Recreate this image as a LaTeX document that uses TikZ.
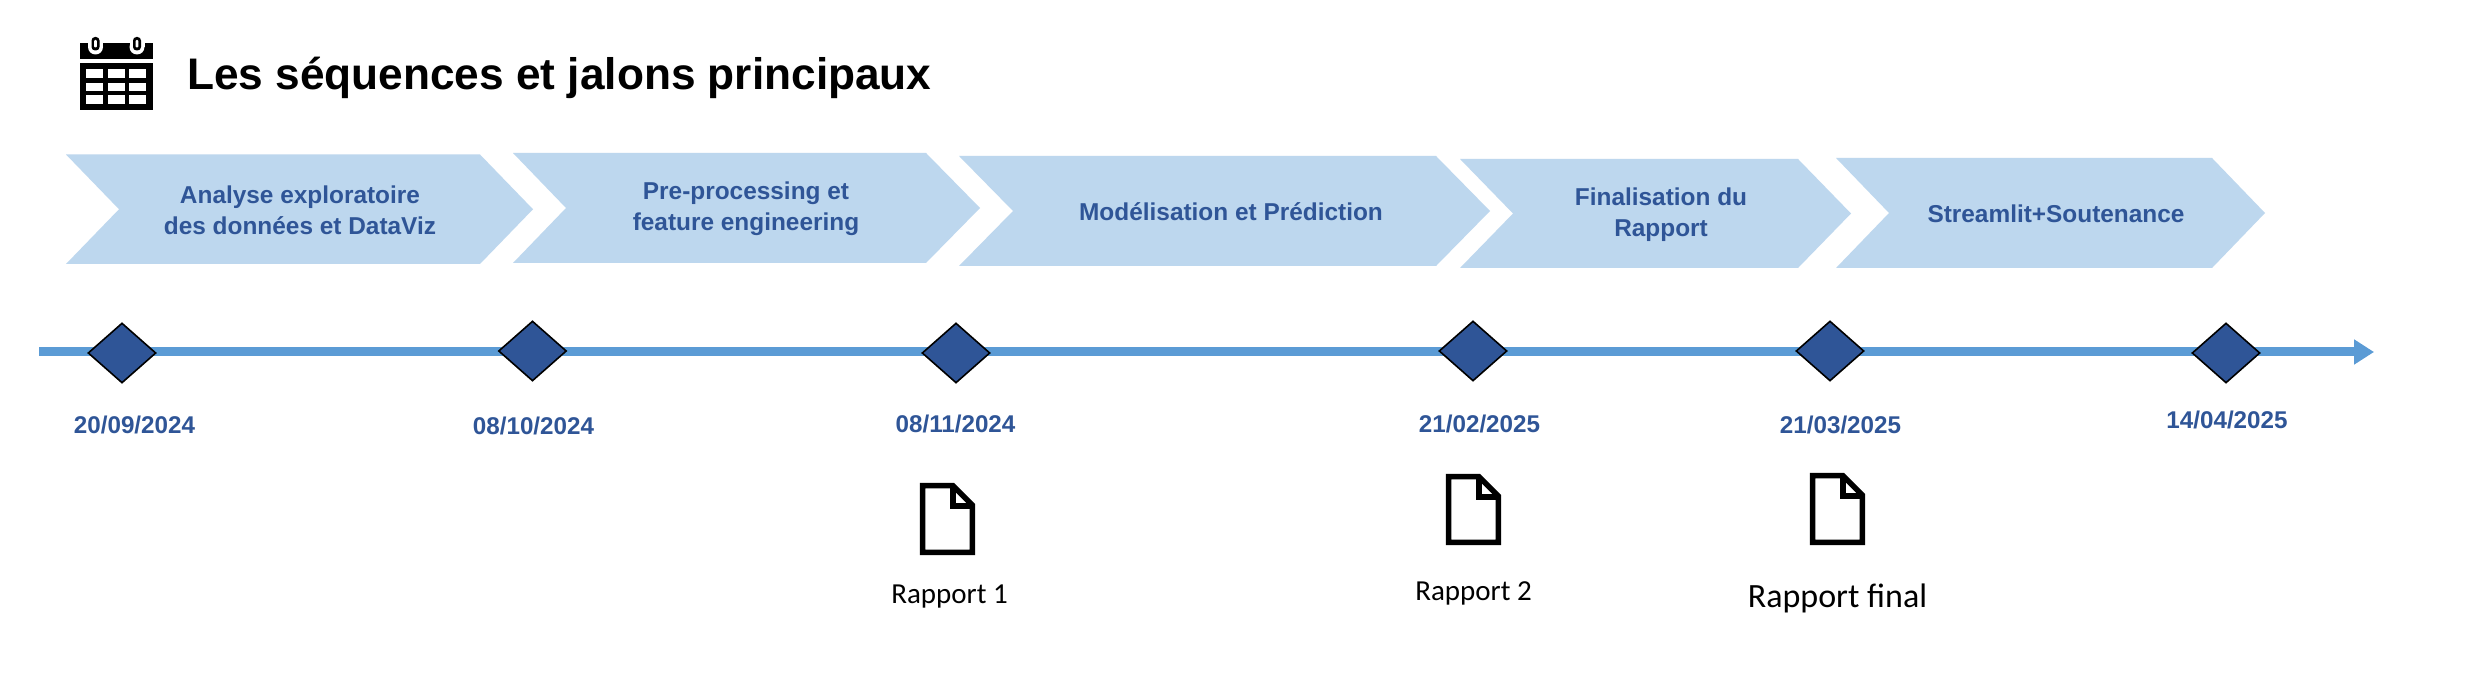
\documentclass[tikz,border=0pt]{standalone}
\usepackage{fontspec}
\setmainfont{Liberation Sans}
\newfontfamily\carlito{Carlito}
\usetikzlibrary{shapes.geometric,arrows.meta}
\definecolor{chevfill}{HTML}{BDD7EE}
\definecolor{linecol}{HTML}{5B9BD5}
\definecolor{darkblue}{HTML}{2F5597}
\tikzset{
  chevshape/.style={fill=chevfill,draw=none},
  chevtext/.style={font=\fontsize{24.4}{31}\selectfont\bfseries,text=darkblue,align=center,inner sep=0pt},
  datelabel/.style={font=\fontsize{24.2}{29}\selectfont\bfseries,text=darkblue,inner sep=0pt},
  milestone/.style={shape=diamond,draw=black,line width=1.6pt,fill=darkblue,inner sep=0pt,minimum width=68pt,minimum height=60pt,aspect=1.13},
  timeline/.style={draw=linecol,line width=9pt,-{Triangle[length=20pt,width=24pt]}},
  docicon/.style={draw=black,line width=5.5pt,fill=white,miter limit=4},
  doctext/.style={font=\carlito\fontsize{29}{34}\selectfont,inner sep=0pt},
}
% #1 left, #2 notch, #3 shoulder, #4 tip, #5 top, #6 bottom
\newcommand{\chevron}[6]{\fill[chevshape] (#1,#5) -- (#3,#5) -- (#4,{(#5+#6)/2}) -- (#3,#6) -- (#1,#6) -- (#2,{(#5+#6)/2}) -- cycle;}
% #1 left, #2 right, #3 top, #4 bottom
\newcommand{\docsheet}[4]{%
  \draw[docicon] (#1+2.7,#3+2.7) -- (#2-22,#3+2.7) -- (#2-2.7,#3+22) -- (#2-2.7,#4-2.7) -- (#1+2.7,#4-2.7) -- cycle;
  \draw[docicon,fill=none] (#2-22,#3+2.7) -- (#2-22,#3+23) -- (#2-2.7,#3+23);
}
\begin{document}
\begin{tikzpicture}[x=1pt,y=-1pt]
\useasboundingbox[fill=white] (0,0) rectangle (2485,684);
% calendar icon
\fill[black] (79.5,43) rectangle (152.5,59);
\foreach \cx in {95.5,137}{
  \fill[white] (\cx-7.5,42) rectangle (\cx+7.5,47);
  \fill[white] (\cx,47) ellipse (7.5 and 7.5);
  \fill[black,rounded corners=3.5pt] (\cx-4,37) rectangle (\cx+4,50.5);
  \fill[white,rounded corners=1pt] (\cx-1.3,40) rectangle (\cx+1.3,47.5);
}
\fill[black] (79.5,63) rectangle (152.5,110);
\foreach \a/\b in {86/103,108/125,129/146}{
  \foreach \c/\d in {69/78,83/91,95/104}{
    \fill[white] (\a,\c) rectangle (\b,\d);
  }
}
\node[anchor=west,inner sep=0pt,font=\fontsize{44.2}{50}\selectfont\bfseries] (title) at (187,77.5) {Les séquences et jalons principaux};
% chevrons
\chevron{66}{119}{480}{533}{154.5}{264}
\chevron{513}{566}{926}{980}{153}{263}
\chevron{959}{1013}{1436}{1490}{156}{266}
\chevron{1460}{1513}{1798}{1851}{159}{268}
\chevron{1836}{1889}{2212}{2265}{158}{268}
\node[chevtext] (c1) at (300,210.5) {Analyse exploratoire\\des données et DataViz};
\node[chevtext] (c2) at (746,208.5) {Pre-processing et\\feature engineering};
\node[chevtext] (c3) at (1231,212) {Modélisation et Prédiction};
\node[chevtext] (c4) at (1661,214.5) {Finalisation du\\Rapport};
\node[chevtext] (c5) at (2056,214) {Streamlit+Soutenance};
% timeline
\coordinate (tstart) at (39,352);
\coordinate (tend) at (2374,352);
\draw[timeline] (tstart) -- (tend);
\node[milestone] (m1) at (122,353) {};
\node[milestone] (m2) at (532.5,351) {};
\node[milestone] (m3) at (956,353) {};
\node[milestone] (m4) at (1473,351) {};
\node[milestone] (m5) at (1830,351) {};
\node[milestone] (m6) at (2226,353) {};
\node[datelabel] (d1) at (134.5,425) {20/09/2024};
\node[datelabel] (d2) at (533.5,426) {08/10/2024};
\node[datelabel] (d3) at (955.5,424) {08/11/2024};
\node[datelabel] (d4) at (1479.5,424) {21/02/2025};
\node[datelabel] (d5) at (1840.5,425) {21/03/2025};
\node[datelabel] (d6) at (2227,420) {14/04/2025};
% documents
\docsheet{920}{975}{483}{555}
\docsheet{1446}{1501}{474}{545}
\docsheet{1810}{1865}{473}{545}
\node[doctext] (r1) at (949.5,597) {Rapport 1};
\node[doctext] (r2) at (1473.5,593) {Rapport 2};
\node[doctext,font=\carlito\fontsize{34}{40}\selectfont] (r3) at (1837.5,598) {Rapport final};
\end{tikzpicture}
\end{document}
